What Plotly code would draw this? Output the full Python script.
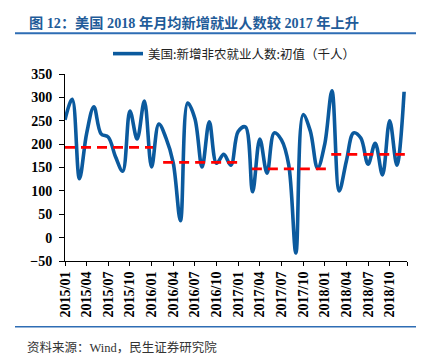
import plotly.graph_objects as go

# ---- data ----
MONTH_INDEX = list(range(48))  # 2015/01 .. 2018/12
NFP_INITIAL = [
    252, 296, 126, 223, 280, 222, 215, 173, 142, 271, 211, 292,   # 2015
    151, 243, 213, 160, 36, 288, 255, 151, 248, 159, 178, 155,    # 2016
    227, 237, 98, 211, 138, 224, 209, 156, -33, 263, 228, 148,    # 2017
    200, 314, 100, 164, 224, 213, 157, 202, 134, 250, 155, 312,   # 2018
]
AVG_VALUES = [193, 161, 147, 178]
AVG_START = [0.0, 13.6, 25.9, 36.9]
AVG_END = [12.2, 24.2, 36.6, 47.1]
TICK_POS = list(range(0, 48, 3))
TICK_LABELS = [
    "2015/01", "2015/04", "2015/07", "2015/10",
    "2016/01", "2016/04", "2016/07", "2016/10",
    "2017/01", "2017/04", "2017/07", "2017/10",
    "2018/01", "2018/04", "2018/07", "2018/10",
]
SERIES_NAME = "美国:新增非农就业人数:初值（千人）"
TITLE = "图 12：美国 2018 年月均新增就业人数较 2017 年上升"
SOURCE = "资料来源：Wind，民生证券研究院"

X_MAX = 47.4

# page body has an 8px margin; figure placed at (8,8) in the 435x359 window
OFF = 8
W, H = 435 - OFF, 359 - OFF
L, R, T, B = 65 - OFF, 28, 74 - OFF, 98
PW = W - L - R
PH = H - T - B


def px(x):
    return (x - 65) / PW


def py(y):
    return (261 - y) / PH


SERIF = "Liberation Serif, Noto Sans CJK SC, serif"
BLUE = "#0B5A9E"

fig = go.Figure()

fig.add_trace(go.Scatter(
    x=MONTH_INDEX, y=NFP_INITIAL, mode="lines", name=SERIES_NAME,
    line=dict(color=BLUE, width=3.6, shape="spline", smoothing=1.0),
    showlegend=True,
))

for v, s, e in zip(AVG_VALUES, AVG_START, AVG_END):
    fig.add_trace(go.Scatter(
        x=[s, e], y=[v, v], mode="lines", showlegend=False,
        line=dict(color="#FF0000", width=2.6, dash="10px,6px"),
        hoverinfo="skip",
    ))

fig.update_layout(
    width=W, height=H,
    margin=dict(l=L, r=R, t=T, b=B, pad=0, autoexpand=False),
    plot_bgcolor="white", paper_bgcolor="white",
    showlegend=True,
    legend=dict(
        orientation="h", x=px(108), y=py(54), xanchor="left", yanchor="middle",
        font=dict(family="Noto Sans CJK SC", size=12.5, color="#222"),
        bgcolor="rgba(0,0,0,0)", borderwidth=0,
    ),
    xaxis=dict(
        range=[0, X_MAX], showgrid=False, zeroline=False,
        showline=True, linecolor="black", linewidth=1,
        ticks="outside", ticklen=4, tickcolor="black", tickwidth=1,
        tickmode="array", tickvals=TICK_POS + [X_MAX], ticktext=TICK_LABELS + [""],
        tickangle=-90,
        tickfont=dict(family=SERIF, size=14, color="black", weight=700),
    ),
    yaxis=dict(
        range=[-50, 350], dtick=50, tick0=0, showgrid=False, zeroline=False,
        showline=True, linecolor="black", linewidth=1,
        ticks="outside", ticklen=5, tickcolor="black", tickwidth=1,
        ticklabelstandoff=4,
        tickfont=dict(family=SERIF, size=14, color="black", weight=700),
    ),
)

fig.add_annotation(
    xref="paper", yref="paper", x=px(27), y=py(22.7), xanchor="left", yanchor="middle",
    text=TITLE, showarrow=False,
    font=dict(family=SERIF, size=14.2, color="#1F5C99", weight=700),
)
fig.add_annotation(
    xref="paper", yref="paper", x=px(25), y=py(347.5), xanchor="left", yanchor="middle",
    text=SOURCE, showarrow=False,
    font=dict(family=SERIF, size=12.5, color="#333"),
)
fig.add_shape(type="line", xref="paper", yref="paper",
              x0=px(15), x1=px(416), y0=py(33.3), y1=py(33.3),
              line=dict(color="#2E6DB4", width=2))
fig.add_shape(type="line", xref="paper", yref="paper",
              x0=px(15), x1=px(416), y0=py(326.7), y1=py(326.7),
              line=dict(color="#2E6DB4", width=1.5))

fig.write_html("out.html")
